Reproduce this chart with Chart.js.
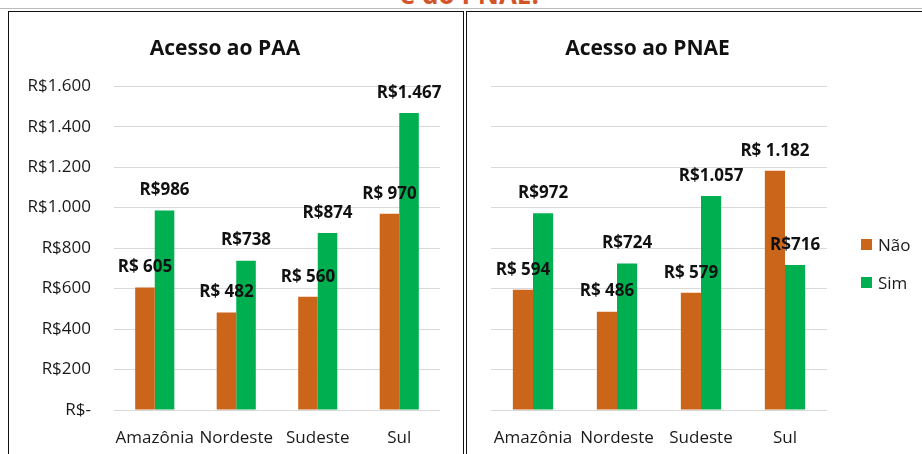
<!DOCTYPE html>
<html>
<head>
<meta charset="utf-8">
<script src="https://cdn.jsdelivr.net/npm/chart.js@4.4.1/dist/chart.umd.min.js"></script>
<style>
  body { margin: 0; background: #fff; width: 922px; height: 454px; overflow: hidden; position: relative; font-family: "Open Sans", sans-serif; }
  .panel { position: absolute; top: 11px; height: 460px; border: 1.5px solid #111; box-sizing: border-box; }
  .box { position: absolute; top: 12px; height: 442px; }
  #topline { position: absolute; left: 0; top: 8px; width: 922px; height: 1px; background: #bbb; }
  #heading { position: absolute; left: 400px; top: -24px; font-weight: bold; font-size: 26px; color: #D2552A; white-space: nowrap; }
  #legend { position: absolute; left: 861px; top: 225px; font-size: 17px; color: #1a1a1a; }
  #legend div { height: 38px; display: flex; align-items: center; }
  #legend span.sw { display: inline-block; width: 11px; height: 11px; margin-right: 6px; }
</style>
</head>
<body>
<div id="heading">e do PNAE.</div>
<div id="topline"></div>
<div class="panel" style="left:8px;width:456px"></div>
<div class="panel" style="left:466px;width:470px"></div>
<div class="box" style="left:10px;width:452px"><canvas id="paa"></canvas></div>
<div class="box" style="left:468px;width:454px"><canvas id="pnae"></canvas></div>
<div id="legend"></div>
<script>
const regions = ['Amazônia', 'Nordeste', 'Sudeste', 'Sul'];
const seriesNames = ['Não', 'Sim'];
const seriesColors = ['#CB651A', '#00B050'];
const paaNao = [605, 482, 560, 970];
const paaSim = [986, 738, 874, 1467];
const pnaeNao = [594, 486, 579, 1182];
const pnaeSim = [972, 724, 1057, 716];
const yTicks = ['R$-', 'R$200', 'R$400', 'R$600', 'R$800', 'R$1.000', 'R$1.200', 'R$1.400', 'R$1.600'];
// Não labels have a space after R$, Sim labels do not
const labelPrefix = ['R$ ', 'R$'];

const FONT = '"Open Sans", sans-serif';
const textColor = '#1a1a1a';

function fmt(v) {
  return v.toLocaleString('de-DE');
}

const barLabels = {
  id: 'barLabels',
  afterDatasetsDraw(chart) {
    const ctx = chart.ctx;
    ctx.save();
    ctx.font = 'bold 17px ' + FONT;
    ctx.fillStyle = '#111';
    ctx.textAlign = 'center';
    ctx.textBaseline = 'middle';
    chart.data.datasets.forEach((ds, i) => {
      chart.getDatasetMeta(i).data.forEach((bar, j) => {
        ctx.fillText(labelPrefix[i] + fmt(ds.data[j]), bar.x, bar.y - 20);
      });
    });
    ctx.restore();
  }
};

function makeChart(id, title, nao, sim, axisWidth, padRight, showTicks) {
  const ctx = document.getElementById(id).getContext('2d');
  return new Chart(ctx, {
    type: 'bar',
    data: {
      labels: regions,
      datasets: [
        { label: seriesNames[0], data: nao, backgroundColor: seriesColors[0] },
        { label: seriesNames[1], data: sim, backgroundColor: seriesColors[1] }
      ]
    },
    options: {
      responsive: true,
      maintainAspectRatio: false,
      animation: false,
      categoryPercentage: 0.48,
      barPercentage: 1,
      layout: { padding: { left: 0, right: padRight, top: 0, bottom: 0 } },
      plugins: {
        legend: { display: false },
        tooltip: { enabled: false },
        title: {
          display: true,
          text: title,
          color: '#111',
          font: { family: FONT, size: 21, weight: 'bold' },
          padding: { top: 24, bottom: 25 }
        }
      },
      scales: {
        x: {
          grid: { display: false },
          border: { display: false },
          ticks: { color: textColor, font: { family: FONT, size: 17 }, padding: 10, maxRotation: 0, autoSkip: false },
          afterFit(s) { s.height = 44; }
        },
        y: {
          min: 0,
          max: 1600,
          grid: { color: '#D9D9D9', drawTicks: false },
          border: { display: false },
          ticks: {
            display: showTicks,
            stepSize: 200,
            padding: 23,
            color: textColor,
            font: { family: FONT, size: 17 },
            callback: (v, i) => yTicks[i]
          },
          afterFit(s) { s.width = axisWidth; }
        }
      }
    },
    plugins: [barLabels]
  });
}

makeChart('paa', 'Acesso ao PAA', paaNao, paaSim, 104, 22, true);
const pnaeChart = makeChart('pnae', 'Acesso ao PNAE', pnaeNao, pnaeSim, 23, 95, false);

const legend = document.getElementById('legend');
pnaeChart.data.datasets.forEach(ds => {
  const row = document.createElement('div');
  row.innerHTML = '<span class="sw" style="background:' + ds.backgroundColor + '"></span>' + ds.label;
  legend.appendChild(row);
});
</script>
</body>
</html>
